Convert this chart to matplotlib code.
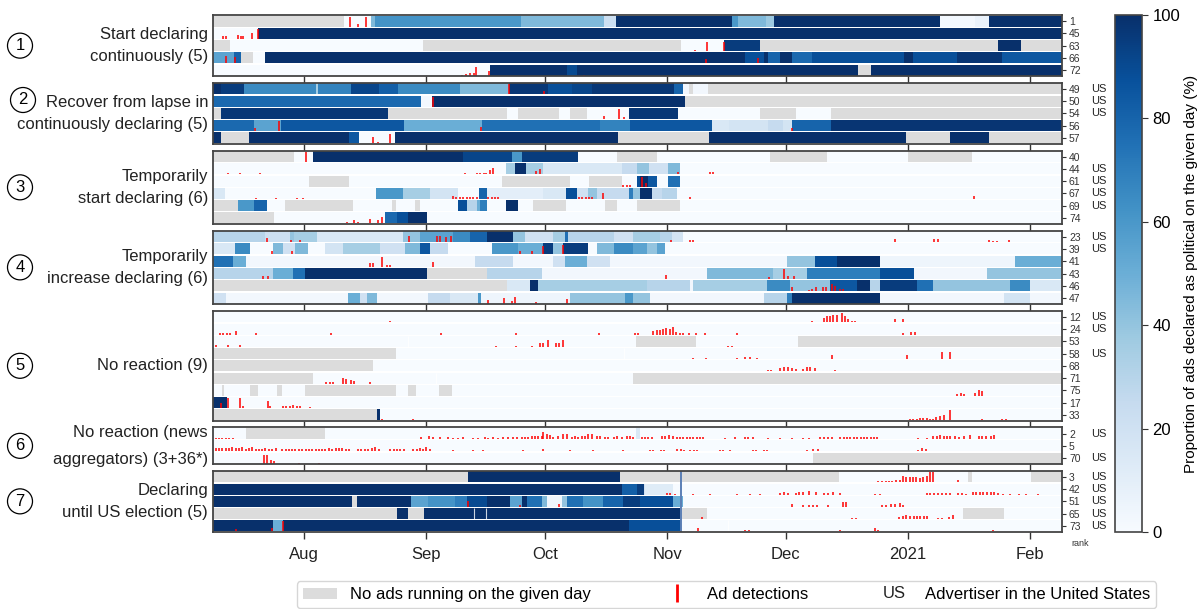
import datetime
import matplotlib
matplotlib.use("Agg")
import matplotlib.pyplot as plt
import matplotlib.dates as mdates
import matplotlib.text as mtext
from matplotlib.patches import Patch
from matplotlib.lines import Line2D
from matplotlib.legend_handler import HandlerBase
from matplotlib.transforms import blended_transform_factory, offset_copy
from matplotlib import cm, colors

plt.rcParams['font.family'] = ['Liberation Sans', 'DejaVu Sans']

# days are counted from START; each row = list of (start_day, value), value None = no ads
START = datetime.datetime(2020, 7, 9)
N_DAYS = 215
GREY = '#dcdcdc'

tick_dates = ['2020-08-01', '2020-09-01', '2020-10-01', '2020-11-01', '2020-12-01', '2021-01-01', '2021-02-01']
tick_labels = ['Aug', 'Sep', 'Oct', 'Nov', 'Dec', '2021', 'Feb']
election_line_day = 118.6

group_labels = ['Start declaring\ncontinuously (5)',
                'Recover from lapse in\ncontinuously declaring (5)',
                'Temporarily\nstart declaring (6)',
                'Temporarily\nincrease declaring (6)',
                'No reaction (9)',
                'No reaction (news\naggregators) (3+36*)',
                'Declaring\nuntil US election (5)']

ranks = [[1, 45, 63, 66, 72],
         [49, 50, 54, 56, 57],
         [40, 44, 61, 67, 69, 74],
         [23, 39, 41, 43, 46, 47],
         [12, 24, 53, 58, 68, 71, 75, 17, 33],
         [2, 5, 70],
         [3, 42, 51, 65, 73]]

us_flags = [[0, 0, 0, 0, 0],
            [1, 1, 1, 0, 0],
            [0, 1, 1, 1, 1, 0],
            [1, 1, 0, 0, 0, 0],
            [1, 1, 0, 1, 0, 0, 0, 0, 0],
            [1, 0, 1],
            [1, 1, 1, 1, 1]]

# ---- group 1
p1_rows = [
    [(0, None), (33, 0), (40, 45), (41, 62), (55, 60), (78, 45), (99, 22), (102, 100), (131.4, 60), (133, 45),
     (140, 38), (142, 100), (184, 2), (193, 7), (196.4, 100)],
    [(0, 0), (11.2, 100)],
    [(0, None), (4.2, 0), (53.2, None), (118.6, 0), (129.5, 95), (138.5, None), (198.7, 100), (204.5, None)],
    [(0, 55), (5.2, 80), (7, None), (10.1, 0), (13, 100), (134.6, 88), (139.5, 100), (140.6, 80), (143.6, 100),
     (146.5, 78), (151.6, 88), (174.9, 100), (177.3, 88), (188.5, 98), (199.7, 85)],
    [(0, 0), (70.2, 100), (89.7, 90), (92.2, 100), (163.4, None), (166.7, 100)],
]
p1_marks = [
    [(34.6, .9), (36.7, .2), (38.7, .9)],
    [(2.4, .3), (3.2, .3), (6.2, .35), (7, .3), (7.6, .3), (9.7, .5), (11.4, .9)],
    [(122, .15), (125, .85), (129.3, .8)],
    [(3.3, .7), (5.4, .6), (124.9, .4), (138, .5)],
    [(62.9, .1), (64, .15), (65, .2), (66, .2), (66.6, .8), (69.9, .4), (93.9, .1)],
]

# ---- group 2
p2_rows = [
    [(0, 100), (2, 95), (7.8, 65), (26, 35), (26.5, 68), (34.8, 92), (42.1, 82), (46.8, 65), (62.4, 45), (74.8, 97),
     (84.7, 88), (90.9, 92), (96, 97), (116.7, 80), (119.1, 3), (120.5, None), (121.5, 3), (125.4, None)],
    [(0, 78), (52.5, 2), (55.3, 100), (119.4, None)],
    [(0, None), (2, 97), (44.2, None), (74.3, 0), (77.2, None), (87.5, 0), (90.4, None), (94.6, 0), (105.4, 97),
     (117.6, 0), (138.5, None), (147.7, 0), (156.5, None)],
    [(0, 78), (10.4, 55), (17.2, 85), (48.3, 50), (68, 75), (98, 68), (105.5, 85), (126.4, 15), (130.7, 18),
     (140.4, 25), (144.3, 18), (146.7, 80), (156.5, 98)],
    [(0, 100), (2, None), (9.1, 100), (34.3, 85), (36.9, 0), (46, 100), (102.4, None), (125.7, 100), (175.4, None),
     (186.7, 100), (196.5, None)],
]
p2_marks = [
    [(74.8, .9), (83.7, .3)],
    [(55.6, .9)],
    [(99, .3), (102.9, .9), (104, .2)],
    [(10.6, .3), (16.6, .9), (67.9, .4), (146.7, .3)],
    [(40.5, .6), (41.6, .15), (44.7, .9)],
]

# ---- group 3
p3_rows = [
    [(0, None), (20.5, 0), (25.2, 100), (63.2, 92), (75.6, 60), (78.1, 95), (92.3, 0), (102.2, None), (112.3, 0),
     (141, None), (155.4, 0), (176.1, None), (192.3, 0)],
    [(0, 0), (74.2, 35), (76.4, 100), (79.2, 35), (83.6, 15), (103.5, 25), (107.3, 40), (110.5, 20), (115.3, 45),
     (118.2, 0)],
    [(0, 0), (24.3, None), (34.5, 0), (73.1, None), (90.4, 0), (95.3, None), (103.5, 0), (107.3, 88), (108.1, 100),
     (110.2, 85), (112.3, 0), (115.3, 75), (118.2, 0)],
    [(0, 15), (3, 0), (41.2, 60), (48.1, 35), (54.9, 18), (62.1, 0), (67.4, 80), (69.4, 10), (83.6, 15), (89.4, 88),
     (92.1, 20), (95, 40), (97.1, 25), (105.2, 70), (106.4, 40), (108.1, 100), (111.1, 25), (113.6, 30), (117.4, 0)],
    [(0, None), (6.3, 60), (10.3, 80), (13.5, 0), (18.2, None), (35.5, 0), (45.2, None), (46.3, 0), (51.1, None),
     (52.4, 0), (62.1, 88), (64.2, 30), (66.7, 50), (67.6, 70), (69.4, 0), (74.2, 100), (77.3, 0), (81.1, None),
     (89.4, 0), (99.2, None), (102.2, 0), (107.3, None), (118.2, 0)],
    [(0, None), (15.4, 0), (43.5, 78), (46.5, 88), (49.4, 100), (54.1, 0)],
]
p3_marks = [
    [(23.6, .9)],
    [(3.6, .1), (6.8, .1), (11.8, .15), (63.8, .1), (66.7, .1), (67.6, .1), (68.5, .1), (69.1, .1), (70, .4),
     (70.8, .6), (81.8, .3), (82.8, .5), (117.6, .2), (125.8, .2), (126.7, .2)],
    [(103.9, .2), (104.7, .2), (105.6, .2), (108.5, .9), (109.6, .3)],
    [(10.7, .1), (16, .1), (21.1, .1), (22.8, .1), (60.8, .25), (61.6, .2), (62.5, .2), (63.3, .2), (64.2, .2),
     (65.1, .2), (65.9, .2), (66.7, .2), (69.7, .2), (70.6, .2), (71.4, .2), (72.2, .2), (92.7, .15), (93.5, .15),
     (94.4, .15), (95.2, .15), (96, .15), (98.8, .5), (120.8, .2), (192.6, .3)],
    [],
    [(33.8, .1), (35.6, .3), (36.7, .15), (39.7, .4), (41.8, .3), (42.8, .6)],
]

# ---- group 4
p4_rows = [
    [(0, 30), (13.1, 22), (19.4, 40), (20.5, 35), (26.2, 15), (48.1, 40), (52.4, 55), (60.8, 65), (65, 80),
     (69.3, 100), (76, 40), (79, 20), (86.1, 35), (89.1, 75), (89.9, 30), (101.4, 20), (106.4, 35), (113.2, 30),
     (116.1, 18), (119.1, 0)],
    [(0, 15), (5.5, 65), (9.3, 0), (15.2, 45), (17.7, 20), (20.7, 45), (24.1, 0), (28.3, 18), (32.9, 35), (42.2, 20),
     (48.6, 45), (52.4, 85), (54.9, 25), (59.5, 0), (70.5, 60), (77.3, 50), (83.6, 95), (86.1, 40), (88.7, 95),
     (95, 0), (97.1, 45), (101.4, 65), (106.4, 55), (109.8, 40), (112.3, 55), (114.4, 0)],
    [(0, 75), (5.1, 50), (8.3, 3), (66.3, 25), (76, 3), (86.1, 20), (89, 50), (94.6, 20), (100.5, 3), (145.3, 40),
     (152.4, 88), (157.9, 100), (168.9, 5), (203.1, 50)],
    [(0, 30), (15.2, 50), (20.3, 75), (23.2, 100), (54.1, None), (69.3, 30), (83.2, 3), (125, 45), (141.9, 35),
     (150.3, 70), (168.9, 88), (177.4, 3), (195.9, 40)],
    [(0, None), (74.3, 15), (80.2, 100), (82.3, 35), (109.8, 30), (120.8, 3), (121.6, 35), (140.2, 65), (146.1, 40),
     (156.2, 85), (163, 100), (166.4, 30), (168.9, 95), (178.2, 75), (182.4, 40), (201.8, 65), (206.9, 15)],
    [(0, 20), (3.2, 3), (34.2, 50), (37.2, 20), (38.9, 45), (41.4, 3), (54.5, 25), (60, 15), (67.1, 60), (67.9, 5),
     (90.4, 40), (104.4, 60), (106.4, 40), (110.6, 3), (139.4, 30), (145.3, 70), (146.5, 100), (168.9, 3),
     (200.2, 18), (206.9, 3)],
]
p4_marks = [
    [(13.7, .4), (19.6, .2), (22, .2), (49.7, .6), (56.6, .6), (57.4, .6), (59, .5), (60.2, .6), (116, .2),
     (120.8, .2), (121.6, .2), (172.7, .25), (182.6, .3), (183.7, .25), (196.5, .2), (197.5, .15), (198.5, .15),
     (201.6, .2)],
    [(14.8, .35), (19.9, .35), (77.7, .35), (80.7, .3), (83.6, .8), (88.7, .9)],
    [(39.7, .35), (40.5, .35), (42.7, .9), (44, .15), (44.8, .15), (55.6, .4)],
    [(12.7, .3), (13.9, .3), (114.7, .4), (140.8, .2), (144.6, .9), (145.7, .3), (147, .3)],
    [(146.5, .4), (150.8, .15), (151.6, .2), (152.6, .4), (154.4, .35), (155.2, .4), (156.7, .7), (157.5, .5),
     (158.8, .2), (159.6, .2)],
    [(69.7, .35), (73.6, .5), (75.6, .2), (76.4, .6), (81.8, .15), (89.5, .4)],
]

# ---- group 5
p5_rows = [
    [(0, 0)],
    [(0, 0)],
    [(0, 0), (49.2, 0), (107.1, None), (122.3, 0), (148.2, None)],
    [(0, None), (46.3, 0), (104.1, 0)],
    [(0, None), (40.4, 0)],
    [(0, None), (25.3, 0), (56.3, 0), (106.2, None)],
    [(0, 0), (2.3, None), (2.6, 0), (9.3, None), (11.4, 0), (16.2, None), (17.3, 0), (23.2, None), (46.3, 0),
     (49.2, None), (51.4, 0), (57.3, None), (60.4, 0)],
    [(0, 100), (3.4, 0)],
    [(0, None), (41.4, 100), (42.2, 0)],
]
p5_marks = [
    [(44.8, .1), (151.6, .1), (154.6, .4), (155.4, .6), (156.3, .6), (157.1, .65), (157.9, .7), (159.2, .85),
     (160.1, .6), (160.9, .3), (161.7, .15), (162.5, .15), (172.7, .3), (174.8, .3)],
    [(1.7, .15), (2.5, .15), (3.4, .15), (4.2, .15), (5.7, .3), (10.8, .1), (29.7, .1), (57.6, .1), (76.7, .1),
     (97.7, .1), (106.8, .1), (107.6, .1), (111.5, .3), (112.3, .45), (113.2, .45), (114, .5), (114.8, .55),
     (115.7, .5), (116.5, .65), (117.3, .25), (118.2, .15), (119, .1), (120.5, .1), (122.3, .1), (124.6, .1),
     (132.6, .1), (174.8, .15), (176.7, .2), (177.8, .25)],
    [(0.7, .2), (3.8, .2), (6.8, .2), (71.6, .1), (76.7, .1), (80.7, .1), (82.8, .35), (83.6, .35), (84.9, .6),
     (86.8, .35), (87.6, .35), (88.7, .6), (130.5, .1), (131.3, .1)],
    [(121.6, .1), (124.7, .1), (132.6, .1), (134.7, .2), (136, .2), (137.7, .1), (156.7, .4), (175.7, .4),
     (184.5, .6), (186.6, .6)],
    [(140.6, .1), (141.4, .1), (143.6, .3), (144.6, .35), (145.6, .35), (146.6, .3), (147.6, .2), (149.5, .2),
     (150.4, .4), (151.2, .35), (152.4, .3), (157.5, .1)],
    [(28.5, .1), (29.5, .1), (30.4, .1), (32.8, .5), (33.5, .4), (35, .3), (35.7, .2), (39.7, .15)],
    [(188.3, .2), (189.3, .3), (190.1, .15), (193, .3), (193.9, .5), (194.7, .45)],
    [(1.9, .5), (3.8, .9), (6.8, .9), (7.6, .2), (13.8, .6), (14.4, .15), (17.7, .15), (18.5, .15), (19.5, .2),
     (20.3, .25), (21.1, .15), (22, .15), (24.5, .1)],
    [(42.7, .15), (50.7, .1), (176.5, .15), (177.3, .15), (178.2, .15), (179, .2), (179.8, .2), (180.7, .2),
     (181.5, .15), (182.4, .1), (183.2, .3), (184.1, .35), (185.2, .45), (186.6, .9), (194.7, .1), (199.7, .15),
     (200.8, .15)],
]

# ---- group 6 (news aggregators)
p6_rows = [
    [(0, 0), (8.3, None), (28.3, 0), (107.1, 15), (108.1, 0)],
    [(0, 0)],
    [(0, 0), (152, None)],
]
p6_marks = [
    [(0.7, .1), (1.5, .1), (2.3, .1), (3.2, .1), (4, .1), (5, .1), (52.6, .15), (54.7, .3), (55.7, .15),
     (57.4, .15), (59.5, .15), (60.8, .1), (62.1, .1), (63.3, .15), (65.9, .1), (67.1, .1), (68.8, .15), (69.7, .1),
     (70.9, .15), (72.2, .1), (73.5, .15), (74.7, .2), (76, .2), (76.9, .2), (78.1, .2), (79, .2), (79.8, .2),
     (80.7, .25), (81.5, .25), (82.3, .3), (83.2, .3), (83.6, .6), (84.5, .5), (85.3, .4), (86.1, .2), (87.4, .25),
     (88.7, .5), (89.5, .45), (90.8, .2), (91.6, .3), (92.5, .2), (93.3, .25), (94.2, .3), (95, .5), (95.9, .45),
     (97.1, .3), (98, .3), (99.2, .2), (100.1, .2), (101.4, .2), (102.2, .25), (103.5, .2), (104.7, .25),
     (105.6, .3), (106.4, .2), (108.5, .15), (109.4, .2), (110.2, .15), (111.1, .15), (113.6, .25), (114.4, .25),
     (115.5, .35), (116.4, .3), (117.4, .2), (118.2, .2), (119.1, .2), (119.9, .2), (120.8, .2), (121.6, .2),
     (122.5, .2), (123.3, .2), (124.1, .15), (129.6, .1), (132.2, .15), (134.7, .15), (135.5, .15), (136.8, .15),
     (140.6, .1), (143.6, .1), (146.5, .1), (149.5, .1), (150.8, .1), (153.7, .2), (154.6, .2), (155.8, .15),
     (156.7, .15), (158.8, .2), (159.7, .2), (160.6, .2), (161.4, .15), (162.3, .15), (163.1, .15), (164, .15),
     (164.8, .15), (165.7, .15), (166.5, .15), (167.4, .2), (168.2, .15), (178.6, .1), (180.7, .1), (182.4, .25),
     (183.3, .3), (184.1, .35), (185, .3), (185.8, .25), (186.7, .3), (188, .25), (188.8, .2), (190.1, .3),
     (191.8, .35), (193.9, .25), (194.8, .3), (195.7, .3), (196.9, .3), (197.8, .35)],
    [(0.7, .3), (1.5, .3), (2.3, .3), (3.2, .3), (4, .3), (4.8, .35), (5.7, .3), (6.5, .3), (7.3, .35), (8.2, .25),
     (9, .3), (9.9, .35), (10.7, .25), (11.5, .25), (12.4, .25), (13.2, .3), (14.1, .25), (14.9, .25), (15.8, .3),
     (17.4, .25), (18.3, .25), (19.1, .25), (20, .25), (20.8, .25), (21.7, .25), (22.5, .25), (23.4, .25),
     (24.2, .25), (25.1, .25), (25.9, .25), (26.8, .25), (27.6, .25), (28.4, .25), (29.3, .3), (30.1, .25),
     (31, .3), (31.8, .3), (32.7, .3), (33.5, .25), (34.4, .25), (36.7, .25), (37.5, .25), (38.4, .25),
     (39.2, .25), (40.1, .3), (40.9, .35), (42, .25), (44.8, .25), (45.7, .25), (46.5, .25), (47.4, .25),
     (48.2, .25), (50.7, .25), (51.5, .25), (52.4, .3), (53.2, .25), (54, .35), (54.9, .25), (60.8, .15),
     (65.9, .15), (68.4, .15), (78.5, .15), (83.6, .25), (90.4, .15), (96.3, .15), (103.9, .15), (110.6, .15),
     (111.4, .15), (113.3, .15), (114.2, .15), (117.5, .2), (118.4, .2), (119.2, .15), (120.8, .15), (121.7, .15),
     (122.5, .15), (128.4, .15), (129.2, .15), (131, .15), (136.8, .15), (137.6, .15), (139.4, .15), (140.3, .15),
     (150.3, .15), (151.9, .2), (153.2, .25), (178.6, .15), (179.6, .3), (180.5, .2)],
    [(12.8, .8), (13.5, .8), (14.5, .3), (15.3, .25), (21.8, .1), (26.9, .1)],
]

# ---- group 7
p7_rows = [
    [(0, None), (64.4, 100), (103, None), (158.4, 0), (191.3, None), (192.3, 0), (207.1, None)],
    [(0, 100), (103.5, 82), (107.3, 95), (109, 20), (109.4, 12), (116.5, 0)],
    [(0, 100), (35.2, None), (36.3, 100), (50.1, 55), (54.5, 62), (61.2, 70), (64.2, 90), (69.3, 100), (75.2, 55),
     (78.2, 100), (79.4, 75), (83.2, 45), (84.5, 5), (88.3, 40), (89.5, 75), (93.7, 62), (98.8, 80), (103.9, 95),
     (108.1, 88), (116.5, 50), (119.1, 0)],
    [(0, None), (46.5, 100), (49.2, None), (53.4, 100), (66.1, 100), (69, 100), (118.2, None), (125, 0),
     (190, None), (200.2, 0)],
    [(0, 100), (15.2, 50), (17.7, 100), (105.2, 88), (118.6, 0), (130.3, 0)],
]
p7_marks = [
    [(168.5, .15), (169.5, .15), (170.3, .15), (171.2, .15), (172, .15), (172.9, .2), (174, .2), (174.7, .6),
     (175.6, .5), (176.4, .5), (177.3, .45), (178.1, .45), (179, .4), (179.9, .5), (180.7, .6), (181.6, .9),
     (182.4, .9), (188.6, .2)],
    [(114.9, .15), (115.7, .15), (117, .1), (121.6, .1), (125.8, .1), (132.6, .1), (136, .1), (138.5, .1),
     (143.6, .15), (144.6, .2), (145.6, .15), (147.6, .15), (148.5, .2), (149.5, .2), (150.8, .3), (152.6, .2),
     (154.6, .15), (155.6, .15), (157.1, .25), (158.8, .15), (167.6, .1), (168.9, .1), (180.7, .15), (181.6, .15),
     (182.6, .15), (183.6, .15), (184.6, .15), (185.6, .15), (186.6, .15), (188.6, .15), (189.6, .15), (190.6, .1),
     (192.4, .2), (193.3, .2), (194.2, .2), (195.1, .2), (196, .25), (196.9, .2), (197.8, .2), (198.7, .15),
     (200.1, .1), (201.8, .1), (204, .1), (206, .1), (209, .1)],
    [(64.6, .5), (77.7, .15), (87.7, .3), (146.5, .3), (149.5, .15), (150.8, .15), (152, .15), (153, .15),
     (155.8, .15), (159.6, .4), (160.4, .4), (169.3, .15), (170.5, .2), (171.6, .25), (172.8, .3), (174, .35),
     (174.8, .2)],
    [(123.7, .15), (161.7, .1), (162.8, .1), (173.6, .2), (174.6, .3), (175.5, .35), (176.4, .3), (177.4, .3),
     (178.2, .3), (179.1, .3), (180.1, .25), (180.9, .3), (183.7, .1), (184.7, .1), (186.5, .2), (187.5, .35)],
    [(5.7, .2), (14.8, .3), (17.7, .9), (122.9, .3), (134.7, .15), (135.8, .15), (158.8, .1), (167.6, .35),
     (168.5, .1), (197.6, .1)],
]

all_rows = [p1_rows, p2_rows, p3_rows, p4_rows, p5_rows, p6_rows, p7_rows]
all_marks = [p1_marks, p2_marks, p3_marks, p4_marks, p5_marks, p6_marks, p7_marks]


class HandlerText(HandlerBase):
    def create_artists(self, legend, orig_handle, xdescent, ydescent, width, height, fontsize, trans):
        t = mtext.Text(width / 2 - xdescent, height / 2 - ydescent, orig_handle.get_text(),
                       ha='center', va='center', fontsize=fontsize, color='#222222')
        t.set_transform(trans)
        return [t]


cmap = plt.get_cmap('Blues')
norm = colors.Normalize(0, 100)
x0 = mdates.date2num(START)

fig = plt.figure(figsize=(12.01, 6.09), dpi=100)
gs = fig.add_gridspec(len(all_rows), 1, height_ratios=[len(r) for r in all_rows],
                      left=213.3 / 1201, right=1062 / 1201, top=1 - 15 / 609, bottom=1 - 532 / 609, hspace=0.095)

ticks = [mdates.date2num(datetime.datetime.strptime(t, '%Y-%m-%d')) for t in tick_dates]

for g, rows in enumerate(all_rows):
    ax = fig.add_subplot(gs[g])
    for r, row in enumerate(rows):
        for i, (s, v) in enumerate(row):
            e = row[i + 1][0] if i + 1 < len(row) else N_DAYS
            c = GREY if v is None else cmap(norm(v))
            ax.barh(r, e - s, left=x0 + s, height=0.9, color=c, linewidth=0)
            # runs of the same value still show a faint break
            if i > 0 and row[i - 1][1] == v:
                ax.vlines(x0 + s, r - 0.45, r + 0.45, color='white', lw=0.8, alpha=0.8)
        for d, h in all_marks[g][r]:
            ax.vlines(x0 + d, r + 0.45, r + 0.45 - 0.9 * h, color='#ff0000', lw=1.1)
    if g == 6:
        ax.axvline(x0 + election_line_day, color='#5b7fb5', lw=1.4)

    ax.set_xlim(x0, x0 + N_DAYS)
    ax.set_ylim(len(rows) - 0.5, -0.5)
    ax.set_xticks(ticks)
    if g == len(all_rows) - 1:
        ax.set_xticklabels(tick_labels, fontsize=12, color='#222222')
    else:
        ax.set_xticklabels([])
    ax.tick_params(axis='x', length=5, width=1, color='#333333', direction='out', pad=6)
    ax.yaxis.tick_right()
    ax.set_yticks(range(len(rows)))
    ax.set_yticklabels([str(k) for k in ranks[g]], fontsize=7.5, color='#333333')
    ax.tick_params(axis='y', length=3, width=0.8, color='#333333', pad=2)
    for sp in ax.spines.values():
        sp.set_color('#444444')
        sp.set_linewidth(1.3)

    tr = blended_transform_factory(ax.transAxes, ax.transData)
    for r, us in enumerate(us_flags[g]):
        if us:
            ax.text(1.034, r, 'US', transform=tr, fontsize=8, ha='left', va='center', color='#222222')

    trf = blended_transform_factory(fig.transFigure, ax.transAxes)
    if g == 1:
        # circle of group 2 sits up by the first line so it clears the long label
        ax.text(23 / 1201, 1 - 100 / 609, str(g + 1), transform=fig.transFigure, fontsize=12, ha='center',
                va='center', bbox=dict(boxstyle='circle,pad=0.3', fc='white', ec='black', lw=0.9))
    else:
        ax.text(20 / 1201, 0.5, str(g + 1), transform=trf, fontsize=12, ha='center', va='center',
                bbox=dict(boxstyle='circle,pad=0.3', fc='white', ec='black', lw=0.9))
    # each label line is its own text, stacked around the panel centre
    lines = group_labels[g].split('\n')
    step = 27 if g == 5 else 21.5
    for k, line in enumerate(lines):
        dy = ((len(lines) - 1) / 2 - k) * step
        ax.text(208 / 1201, 0.5, line, transform=offset_copy(trf, fig=fig, y=dy, units='dots'),
                fontsize=12, ha='right', va='center', color='#222222')

fig.text(1080 / 1201, 1 - 543 / 609, 'rank', fontsize=6.5, ha='center', va='center', color='#333333')

# colorbar
cax = fig.add_axes([1115 / 1201, 1 - 532 / 609, 27 / 1201, (532 - 15) / 609])
cb = fig.colorbar(cm.ScalarMappable(norm=norm, cmap=cmap), cax=cax)
cb.set_ticks([0, 20, 40, 60, 80, 100])
cb.ax.tick_params(labelsize=12, length=4, color='#333333')
cb.outline.set_edgecolor('#444444')
cb.outline.set_linewidth(1.2)
cb.set_label('Proportion of ads declared as political on the given day (%)', fontsize=11, labelpad=3)

# legend
handles = [Patch(fc=GREY, ec='none'),
           Line2D([], [], color='#ff0000', marker='|', linestyle='None', markersize=13, markeredgewidth=2),
           mtext.Text(text='US')]
labels = ['No ads running on the given day', 'Ad detections', 'Advertiser in the United States']
fig.legend(handles, labels, loc='lower left', ncol=3, mode='expand', fontsize=12,
           bbox_to_anchor=(297 / 1201, 1 / 609, (1156 - 297) / 1201, 28 / 609), borderaxespad=0,
           handler_map={mtext.Text: HandlerText()}, handlelength=2.05, handletextpad=0.8,
           borderpad=0.35, frameon=True, edgecolor='#cccccc', fancybox=True)

fig.savefig('out.png', dpi=100)
